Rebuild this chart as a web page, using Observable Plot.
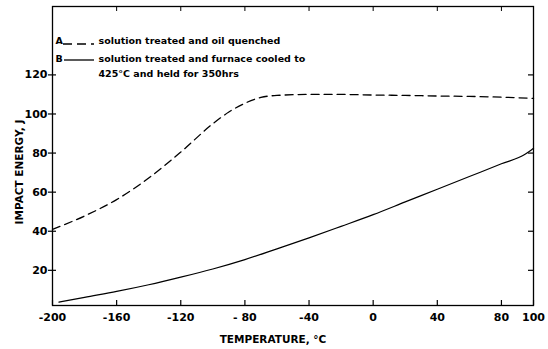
<!DOCTYPE html>
<html>
<head>
<meta charset="utf-8">
<script src="https://cdn.jsdelivr.net/npm/d3@7"></script>
<script src="https://cdn.jsdelivr.net/npm/@observablehq/plot@0.6"></script>
<style>
  html, body { margin: 0; padding: 0; background: #fff; }
  svg { display: block; }
</style>
</head>
<body>
<div id="chart"></div>
<script>
// Curve A: solution treated and oil quenched (dashed)
const tempA = [-200, -180, -160, -140, -120, -100, -90, -80, -70, -60, -40, -20, 0, 20, 40, 60, 80, 100];
const energyA = [41, 47.8, 56.2, 67.2, 80.5, 95, 101, 105.5, 108.5, 109.5, 110, 110, 109.7, 109.5, 109.2, 109, 108.6, 108];
// Curve B: solution treated and furnace cooled to 425°C and held for 350hrs (solid)
const tempB = [-196, -180, -160, -140, -120, -100, -80, -60, -40, -20, 0, 20, 40, 60, 80, 95, 100];
const energyB = [3.7, 6.2, 9.2, 12.6, 16.5, 20.7, 25.5, 31, 36.6, 42.5, 48.5, 55, 61.5, 68, 74.5, 79.5, 82.5];

const xTicks = [-200, -160, -120, -80, -40, 0, 40, 80, 100];
const xTickLabels = ["-200", "-160", "-120", "- 80", "-40", "0", "40", "80", "100"];
const yTicks = [20, 40, 60, 80, 100, 120];
const legendA = ["A", "solution treated and oil quenched"];
const legendB = ["B", "solution treated and furnace cooled to", "425°C and held for 350hrs"];
const xLabel = "TEMPERATURE, °C";
const yLabel = "IMPACT ENERGY, J";

const dataA = tempA.map((t, i) => ({t, e: energyA[i]}));
const dataB = tempB.map((t, i) => ({t, e: energyB[i]}));

const font = "DejaVu Sans, sans-serif";
const W = 548, H = 349, ML = 52, MR = 15, MT = 6, MB = 44;
const plotW = W - ML - MR, plotH = H - MT - MB;

const legendLines = (index, scales, values, dims) => {
  const g = d3.create("svg:g").attr("stroke", "black").attr("stroke-width", 1.3).attr("fill", "none");
  const x0 = dims.marginLeft;
  g.append("line").attr("x1", x0 + 11).attr("x2", x0 + 42).attr("y1", 44).attr("y2", 44)
    .attr("stroke-dasharray", "9,5");
  g.append("line").attr("x1", x0 + 12).attr("x2", x0 + 42).attr("y1", 60).attr("y2", 60);
  return g.node();
};

const txt = {fontWeight: "bold", fill: "black"};

const chart = Plot.plot({
  width: W,
  height: H,
  marginLeft: ML,
  marginRight: MR,
  marginTop: MT,
  marginBottom: MB,
  style: {fontFamily: font, fontWeight: "bold", color: "black", background: "white"},
  x: {domain: [-200, 100]},
  y: {domain: [2, 155]},
  marks: [
    Plot.frame({stroke: "black", strokeWidth: 1.3}),
    // tick labels
    Plot.axisX({ticks: xTicks, tickSize: 0, tickFormat: (d, i) => xTickLabels[i], tickPadding: 8, fontSize: 11, label: null}),
    Plot.axisY({ticks: yTicks, tickSize: 4, tickPadding: 1, fontSize: 11, label: null, strokeWidth: 1.2}),
    // inward ticks
    Plot.ruleX(xTicks, {insetTop: plotH - 5, stroke: "black", strokeWidth: 1.2}),
    Plot.ruleX(xTicks.slice(0, -1), {insetBottom: plotH - 5, stroke: "black", strokeWidth: 1}),
    Plot.ruleY(yTicks, {insetRight: plotW - 4, stroke: "black", strokeWidth: 1.2}),
    Plot.ruleY(yTicks, {insetLeft: plotW - 5, stroke: "black", strokeWidth: 1.2}),
    // curves
    Plot.line(dataA, {x: "t", y: "e", stroke: "black", strokeWidth: 1.3, strokeDasharray: "8,5", curve: "monotone-x"}),
    Plot.line(dataB, {x: "t", y: "e", stroke: "black", strokeWidth: 1.2, curve: "monotone-x"}),
    // axis titles
    Plot.text([xLabel], {frameAnchor: "bottom", dx: -20, dy: 37, fontSize: 10.5, ...txt}),
    Plot.text([yLabel], {frameAnchor: "left", textAnchor: "middle", rotate: -90, dx: -33, dy: 16, fontSize: 10.5, ...txt}),
    // legend
    Plot.text([legendA[0]], {frameAnchor: "top-left", dx: 3, dy: 31, fontSize: 9.5, ...txt}),
    Plot.text([legendA[1]], {frameAnchor: "top-left", dx: 46, dy: 31, fontSize: 9.5, ...txt}),
    Plot.text([legendB[0]], {frameAnchor: "top-left", dx: 3, dy: 49, fontSize: 9.5, ...txt}),
    Plot.text([legendB[1]], {frameAnchor: "top-left", dx: 46, dy: 49, fontSize: 9.5, ...txt}),
    Plot.text([legendB[2]], {frameAnchor: "top-left", dx: 46, dy: 64, fontSize: 9.5, ...txt}),
    legendLines
  ]
});
document.getElementById("chart").appendChild(chart);
</script>
</body>
</html>
